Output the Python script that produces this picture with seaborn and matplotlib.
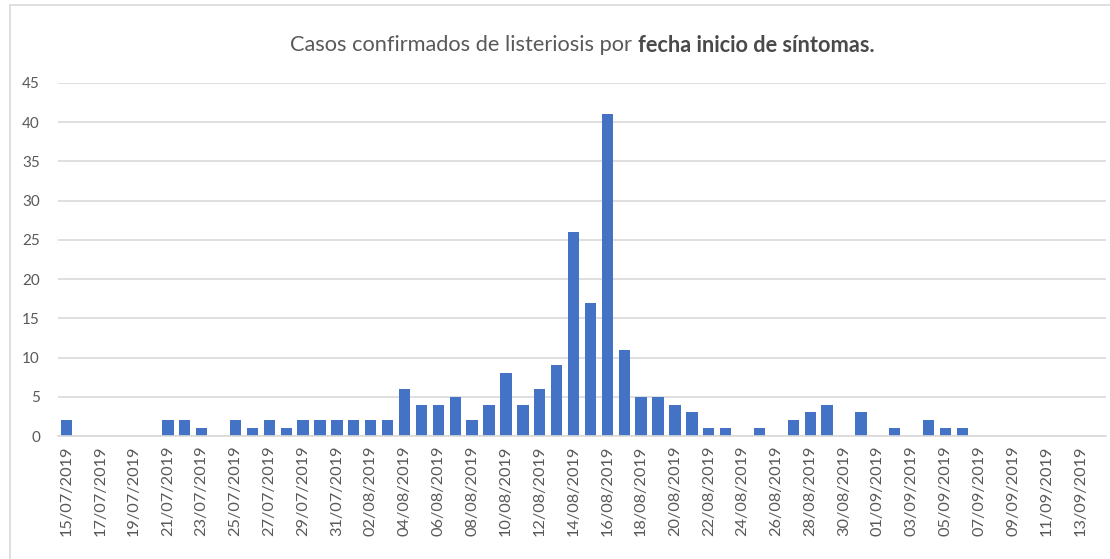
import numpy as np
import pandas as pd
import matplotlib
matplotlib.use("Agg")
import matplotlib.pyplot as plt
import seaborn as sns
from matplotlib.patches import Rectangle

# ---- data ----
start_date = "2019-07-15"
n_days = 62
fechas = pd.date_range(start_date, periods=n_days, freq="D").strftime("%d/%m/%Y").tolist()
casos = [2, 0, 0, 0, 0, 0, 2, 2, 1, 0,
         2, 1, 2, 1, 2, 2, 2, 2, 2, 2,
         6, 4, 4, 5, 2, 4, 8, 4, 6, 9,
         26, 17, 41, 11, 5, 5, 4, 3, 1, 1,
         0, 1, 0, 2, 3, 4, 0, 3, 0, 1,
         0, 2, 1, 1, 0, 0, 0, 0, 0, 0,
         0, 0]
y_ticks = [0, 5, 10, 15, 20, 25, 30, 35, 40, 45]
title_regular = "Casos confirmados de listeriosis por "
title_bold = "fecha inicio de síntomas."

df = pd.DataFrame({"fecha": fechas, "casos": casos})

sns.set_theme(style="white")
plt.rcParams["font.family"] = ["Lato", "DejaVu Sans"]

W, H = 1110, 559
fig = plt.figure(figsize=(W / 100, H / 100), dpi=100)
fig.patch.set_facecolor("white")

# plot area in pixels
left, right, top, bottom = 58, 1106, 83, 436
ax = fig.add_axes([left / W, 1 - bottom / H, (right - left) / W, (bottom - top) / H])

sns.barplot(data=df, x="fecha", y="casos", color="#4472C4", width=0.67,
            saturation=1, linewidth=0, ax=ax)

ax.set_xlim(-0.5, n_days - 0.5)
ax.set_ylim(0, 45)
ax.set_yticks(y_ticks)
ax.set_yticklabels([str(v) for v in y_ticks], color="#595959", fontsize=11)
ax.yaxis.grid(True, color="#D9D9D9", linewidth=1.2)
ax.set_axisbelow(True)

ax.set_xticks(np.arange(0, n_days, 2))
ax.set_xticklabels(fechas[::2], rotation=90, color="#595959", fontsize=11.8)
ax.set_xticks(np.arange(-0.5, n_days, 2), minor=True)
ax.tick_params(axis="x", which="major", length=0, pad=7)
ax.tick_params(axis="x", which="minor", length=6, width=1, color="#D9D9D9", direction="out")
ax.tick_params(axis="y", length=0, pad=13)
ax.set_xlabel("")
ax.set_ylabel("")

for s in ["top", "right", "left"]:
    ax.spines[s].set_visible(False)
ax.spines["bottom"].set_color("#D9D9D9")
ax.spines["bottom"].set_linewidth(1.2)

# chart border
fig.add_artist(Rectangle((10 / W, -0.1), 1.2, 1.1 - 5 / H, transform=fig.transFigure,
                         fill=False, edgecolor="#D9D9D9", linewidth=1.2))

# title with mixed weight
fs = 14
t1 = fig.text(0, 0, title_regular, fontsize=fs, color="#595959", va="center")
t2 = fig.text(0, 0, title_bold, fontsize=fs, color="#4a4a4a", fontweight="bold", va="center")
fig.canvas.draw()
r = fig.canvas.get_renderer()
w1 = t1.get_window_extent(r).width
w2 = t2.get_window_extent(r).width
target = 586.0
scale = target / (w1 + w2)
fs2 = fs * scale
t1.set_fontsize(fs2)
t2.set_fontsize(fs2)
fig.canvas.draw()
w1 = t1.get_window_extent(r).width
w2 = t2.get_window_extent(r).width
x0 = 582 - (w1 + w2) / 2
ty = 1 - 45 / H
t1.set_position((x0 / W, ty))
t2.set_position(((x0 + w1) / W, ty))

fig.savefig("out.png", dpi=100, facecolor="white")
